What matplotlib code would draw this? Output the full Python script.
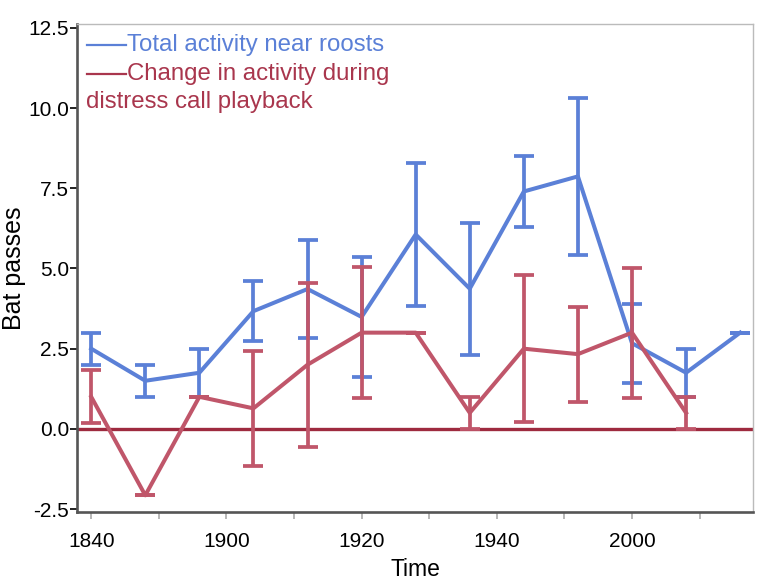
"""
Bat passes near roosts over the evening, with playback change overlaid.
"""

import matplotlib
matplotlib.use("Agg")
import matplotlib.pyplot as plt
from matplotlib.ticker import MultipleLocator, FuncFormatter


# ============================================================================
# DATA
# ============================================================================

times = ["18:40", "18:48", "18:56", "19:04", "19:12", "19:20", "19:28",
         "19:36", "19:44", "19:52", "20:00", "20:08", "20:16"]

total_activity = [2.5, 1.5, 1.75, 3.67, 4.36, 3.49, 6.06,
                  4.37, 7.4, 7.87, 2.67, 1.75, 3.0]
total_err = [0.5, 0.5, 0.75, 0.93, 1.52, 1.87, 2.23,
             2.06, 1.1, 2.45, 1.23, 0.75, 0.0]

playback_change = [1.0, -2.07, 1.0, 0.64, 2.0, 3.0, 3.0,
                   0.5, 2.5, 2.33, 3.0, 0.5]
playback_err = [0.83, 0.0, 0.0, 1.79, 2.55, 2.04, 0.0,
                0.5, 2.3, 1.48, 2.03, 0.5]

legend_labels = ["Total activity near roosts",
                 "Change in activity during",
                 "distress call playback"]

BLUE = "#5b80d7"
RED = "#c0566a"
RED_TEXT = "#a9364d"
ZERO_RED = "#9e2a3f"


def to_minutes(hhmm: str) -> int:
    """'18:40' -> minutes since midnight"""
    h, m = hhmm.split(":")
    return int(h) * 60 + int(m)


def fmt_time(val, pos):
    """minutes -> '1840' style label"""
    val = int(round(val))
    return f"{val // 60:02d}{val % 60:02d}"


x = [to_minutes(t) for t in times]
x_red = x[:len(playback_change)]

# ============================================================================
# FIGURE
# ============================================================================

plt.rcParams["font.family"] = ["Liberation Sans", "DejaVu Sans"]

fig = plt.figure(figsize=(7.58, 5.84), dpi=100)
ax = fig.add_axes([0.1016, 0.1233, 0.8918, 0.8356])

ax.axhline(0, color=ZERO_RED, linewidth=2.4, zorder=1)

err_style = dict(linewidth=2.9, elinewidth=2.7, capsize=7.5, capthick=2.7)
ax.errorbar(x, total_activity, yerr=total_err, color=BLUE, zorder=2, **err_style)
ax.errorbar(x_red, playback_change, yerr=playback_err, color=RED, zorder=3, **err_style)

ax.set_xlim(1117.9, 1217.9)
ax.set_ylim(-2.59, 12.62)

ax.xaxis.set_major_locator(MultipleLocator(20))
ax.xaxis.set_minor_locator(MultipleLocator(10))
ax.xaxis.set_major_formatter(FuncFormatter(fmt_time))
ax.yaxis.set_major_locator(MultipleLocator(2.5))
ax.yaxis.set_major_formatter(FuncFormatter(lambda v, p: f"{v:.1f}"))

ax.tick_params(axis="x", which="both", length=5, width=1.2, color="#aaaaaa",
               labelsize=15, pad=9.5)
ax.tick_params(axis="y", length=5, width=1.3, color="#111111", labelsize=15, pad=0.5)

for side in ("left", "bottom"):
    ax.spines[side].set_color("#555555")
    ax.spines[side].set_linewidth(1.9)
for side in ("top", "right"):
    ax.spines[side].set_color("#bbbbbb")
    ax.spines[side].set_linewidth(1.0)

ax.set_xlabel("Time", fontsize=16.5, labelpad=5)
ax.set_ylabel("Bat passes", fontsize=18, labelpad=2)

# hand-drawn legend in the top-left corner
trans = ax.transAxes
ax.plot([0.015, 0.073], [0.957, 0.957], color=BLUE, linewidth=1.6, transform=trans)
ax.plot([0.015, 0.073], [0.897, 0.897], color=RED_TEXT, linewidth=1.6, transform=trans)
ax.text(0.074, 0.957, legend_labels[0], color=BLUE, fontsize=17.3,
        va="center", ha="left", transform=trans)
ax.text(0.074, 0.897, legend_labels[1], color=RED_TEXT, fontsize=17.3,
        va="center", ha="left", transform=trans)
ax.text(0.013, 0.84, legend_labels[2], color=RED_TEXT, fontsize=17.3,
        va="center", ha="left", transform=trans)

fig.savefig("out.png", dpi=100)
